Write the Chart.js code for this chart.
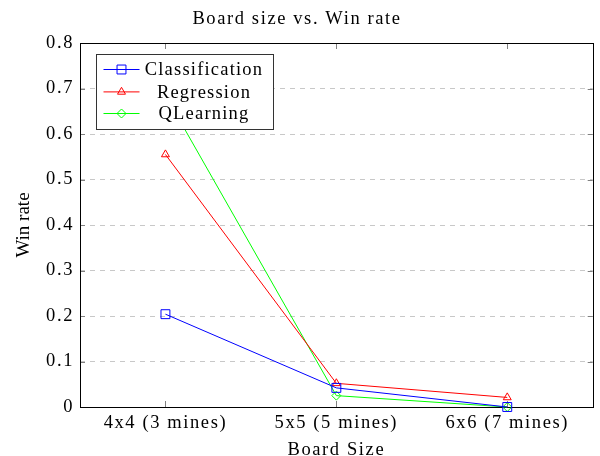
<!DOCTYPE html>
<html>
<head>
<meta charset="utf-8">
<script src="https://cdn.jsdelivr.net/npm/chart.js@4.4.0/dist/chart.umd.min.js"></script>
<style>
  html, body { margin: 0; padding: 0; background: #fff; }
  #wrap { width: 600px; height: 456px; }
</style>
</head>
<body>
<div id="wrap"><canvas id="chart"></canvas></div>
<script>
// data
const boardSizes = ["4x4 (3 mines)", "5x5 (5 mines)", "6x6 (7 mines)"];
const classification = [0.204, 0.042, 0.0];
const regression = [0.555, 0.052, 0.021];
const qlearning = [0.685, 0.025, 0.0];
const yTicks = [0, 0.1, 0.2, 0.3, 0.4, 0.5, 0.6, 0.7, 0.8];

const serif = "'Liberation Serif', 'DejaVu Serif', serif";
const fontSize = 18.5;
const spacing = "1.6px"; // the latex text is set wider than plain Times

// widen all text a bit
const spacingPlugin = {
  id: "spacing",
  beforeUpdate(chart) { chart.ctx.letterSpacing = spacing; },
  beforeDraw(chart) { chart.ctx.letterSpacing = spacing; }
};

// frame + inward tick marks, like pgfplots; y title drawn here without the extra spacing
const framePlugin = {
  id: "frame",
  beforeDatasetsDraw(chart) {
    const { ctx, chartArea: a, scales } = chart;
    ctx.save();
    ctx.lineWidth = 1;
    ctx.strokeStyle = "#808080";
    ctx.beginPath();
    scales.y.ticks.forEach((t, i) => {
      const py = Math.round(scales.y.getPixelForTick(i)) + 0.5;
      ctx.moveTo(a.left, py); ctx.lineTo(a.left + 5, py);
      ctx.moveTo(a.right - 5, py); ctx.lineTo(a.right, py);
    });
    scales.x.ticks.forEach((t, i) => {
      const px = Math.round(scales.x.getPixelForTick(i)) + 0.5;
      ctx.moveTo(px, a.bottom); ctx.lineTo(px, a.bottom - 6);
      ctx.moveTo(px, a.top); ctx.lineTo(px, a.top + 6);
    });
    ctx.stroke();
    ctx.strokeStyle = "#000";
    ctx.strokeRect(Math.round(a.left) + 0.5, Math.round(a.top) + 0.5,
      Math.round(a.right - a.left), Math.round(a.bottom - a.top));

    ctx.letterSpacing = "0px";
    ctx.translate(24, (a.top + a.bottom) / 2);
    ctx.rotate(-Math.PI / 2);
    ctx.font = "19px " + serif;
    ctx.fillStyle = "#000";
    ctx.textAlign = "center";
    ctx.textBaseline = "middle";
    ctx.fillText("Win rate", 0, 0);
    ctx.restore();
  }
};

// legend box inside the plot, top left
const legendBox = {
  id: "legendBox",
  afterDraw(chart) {
    const { ctx, chartArea: a } = chart;
    const x = Math.round(a.left) + 16.5, y = Math.round(a.top) + 11.5;
    const w = 177, h = 75;
    ctx.save();
    ctx.fillStyle = "#fff";
    ctx.fillRect(x, y, w, h);
    ctx.strokeStyle = "#333";
    ctx.lineWidth = 1;
    ctx.strokeRect(x, y, w, h);
    ctx.font = fontSize + "px " + serif;
    ctx.letterSpacing = "1.2px";
    ctx.textAlign = "center";
    ctx.textBaseline = "middle";
    const rows = [15, 37.4, 59];
    chart.data.datasets.forEach((ds, i) => {
      const ry = y + rows[i];
      ctx.strokeStyle = ds.borderColor;
      ctx.beginPath();
      ctx.moveTo(x + 7, ry); ctx.lineTo(x + 43, ry);
      ctx.stroke();
      ctx.fillStyle = "rgba(0,0,0,0)";
      Chart.helpers.drawPoint(ctx, {
        pointStyle: ds.pointStyle, radius: ds.pointRadius, rotation: 0, borderWidth: 1
      }, x + 25, ry);
      ctx.fillStyle = "#000";
      ctx.fillText(ds.label, x + 107.5, ry + 1);
    });
    ctx.restore();
  }
};

const ctx = document.getElementById("chart").getContext("2d");
new Chart(ctx, {
  type: "line",
  data: {
    labels: boardSizes,
    datasets: [
      {
        label: "Classification",
        data: classification,
        borderColor: "#0000ff",
        pointStyle: "rect",
        pointRadius: 6.3
      },
      {
        label: "Regression",
        data: regression,
        borderColor: "#ff0000",
        pointStyle: "triangle",
        pointRadius: 4.6
      },
      {
        label: "QLearning",
        data: qlearning,
        borderColor: "#00ff00",
        pointStyle: "rectRot",
        pointRadius: 4.5
      }
    ].map(ds => Object.assign(ds, {
      borderWidth: 1,
      pointBorderColor: ds.borderColor,
      pointBackgroundColor: "rgba(0,0,0,0)",
      pointBorderWidth: 1,
      tension: 0,
      clip: false
    }))
  },
  options: {
    responsive: true,
    maintainAspectRatio: false,
    animation: false,
    layout: { padding: { left: 0, right: 6, top: 0, bottom: 0 } },
    plugins: {
      legend: { display: false },
      tooltip: { enabled: false },
      title: {
        display: true,
        text: "Board size vs. Win rate",
        color: "#000",
        font: { family: serif, size: fontSize, weight: "normal", lineHeight: 1.2 },
        padding: { top: 8.5, bottom: 12.3 }
      }
    },
    scales: {
      x: {
        offset: true,
        grid: { display: false, drawTicks: false },
        border: { display: false },
        ticks: { color: "#000", padding: 5, font: { family: serif, size: fontSize } },
        title: {
          display: true, text: "Board Size", color: "#000",
          font: { family: serif, size: fontSize, lineHeight: 0.6 },
          padding: { top: 0, bottom: 0 }
        },
        afterFit(scale) { scale.height = 49; }
      },
      y: {
        min: 0,
        max: 0.8,
        afterBuildTicks(scale) { scale.ticks = yTicks.map(v => ({ value: v })); },
        grid: {
          drawTicks: false,
          color: c => (c.tick && (c.tick.value === 0 || c.tick.value === 0.8)) ? "rgba(0,0,0,0)" : "#c8c8c8"
        },
        border: { display: false, dash: [5, 5] },
        ticks: {
          color: "#000", padding: 6,
          font: { family: serif, size: fontSize },
          callback: v => v === 0 ? "0" : v.toFixed(1)
        },
        afterFit(scale) { scale.width = 80; }
      }
    }
  },
  plugins: [spacingPlugin, framePlugin, legendBox]
});
</script>
</body>
</html>
